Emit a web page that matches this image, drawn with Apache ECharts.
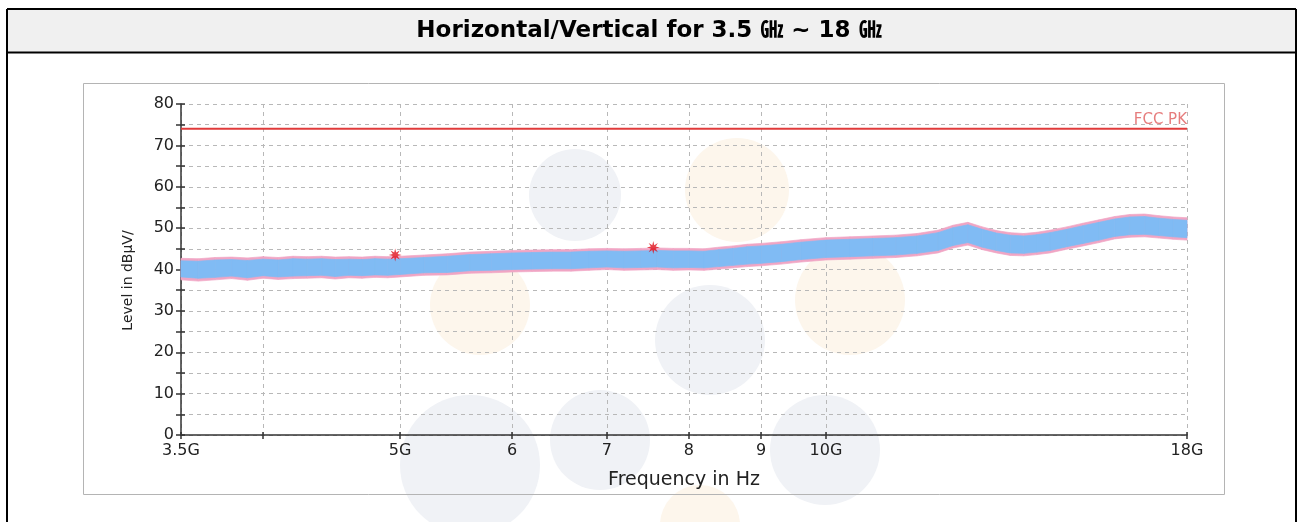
<!DOCTYPE html>
<html>
<head>
<meta charset="utf-8">
<script src="https://cdn.jsdelivr.net/npm/echarts@6/dist/echarts.min.js"></script>
<style>
  html, body { margin: 0; padding: 0; background: #fff; }
  #chart { width: 1300px; height: 522px; }
</style>
</head>
<body>
<div id="chart"></div>
<script>
// frequency sample points in GHz
const freqs = [3.5,3.6,3.7,3.8,3.9,4.0,4.1,4.2,4.3,4.4,4.5,4.6,4.7,4.8,4.9,5.0,5.2,5.4,5.6,5.8,6.0,6.2,6.4,6.6,6.8,7.0,7.2,7.4,7.6,7.8,8.0,8.2,8.4,8.6,8.8,9.0,9.3,9.6,10.0,10.4,10.8,11.2,11.6,12.0,12.3,12.6,12.9,13.2,13.5,13.8,14.1,14.4,14.8,15.2,15.6,16.0,16.4,16.8,17.2,17.6,18.0];

// blue trace envelope (dBuV)
const blueLow  = [38.2,37.9,38.1,38.4,38.0,38.5,38.2,38.4,38.5,38.6,38.3,38.6,38.5,38.7,38.6,38.8,39.2,39.3,39.7,39.8,40.0,40.1,40.2,40.2,40.4,40.6,40.4,40.5,40.6,40.4,40.5,40.4,40.7,41.0,41.3,41.5,41.9,42.4,42.9,43.1,43.3,43.5,43.9,44.6,45.8,46.5,45.4,44.6,44.0,43.9,44.2,44.6,45.5,46.3,47.1,48.0,48.4,48.5,48.2,47.9,47.7];
const blueHigh = [42.1,42.0,42.3,42.4,42.2,42.5,42.3,42.6,42.5,42.6,42.4,42.5,42.4,42.6,42.5,42.6,42.9,43.2,43.6,43.8,44.0,44.1,44.2,44.2,44.4,44.5,44.4,44.5,44.6,44.5,44.5,44.4,44.8,45.1,45.5,45.7,46.1,46.6,47.1,47.3,47.5,47.7,48.1,48.9,50.1,50.8,49.7,48.8,48.3,48.1,48.4,48.9,49.7,50.6,51.4,52.2,52.7,52.8,52.4,52.1,51.9];

// pink trace envelope (dBuV)
const pinkLow  = [37.5,37.2,37.5,37.8,37.4,37.9,37.6,37.8,37.9,38.0,37.7,38.0,37.9,38.1,38.0,38.2,38.6,38.7,39.1,39.2,39.4,39.5,39.6,39.6,39.8,40.0,39.8,39.9,40.0,39.8,39.9,39.8,40.1,40.4,40.7,40.9,41.3,41.8,42.3,42.5,42.7,42.9,43.3,44.0,45.2,45.9,44.8,44.0,43.4,43.3,43.6,44.0,44.9,45.7,46.5,47.4,47.8,47.9,47.6,47.3,47.1];
const pinkHigh = [42.7,42.6,42.9,43.0,42.8,43.1,42.9,43.2,43.1,43.2,43.0,43.1,43.0,43.2,43.1,43.2,43.5,43.8,44.2,44.4,44.6,44.7,44.8,44.8,45.0,45.1,45.0,45.1,45.2,45.1,45.1,45.0,45.4,45.7,46.1,46.3,46.7,47.2,47.7,47.9,48.1,48.3,48.7,49.5,50.7,51.4,50.3,49.4,48.9,48.7,49.0,49.5,50.3,51.2,52.0,52.8,53.3,53.4,53.0,52.7,52.5];

// peak markers [GHz, dBuV]
const markerFreqs = [4.96, 7.55];
const markerLevels = [43.5, 45.3];

// limit line
const limitName = 'FCC PK';
const limitLevel = 74;

// axis ticks
const xTickValues = [3.5,4,5,6,7,8,9,10,18];
const xLabelValues = [3.5,5,6,7,8,9,10,18];
const xLabelText = ['3.5G','5G','6','7','8','9','10G','18G'];

const chart = echarts.init(document.getElementById('chart'));

const fontFam = '"DejaVu Sans", Verdana, sans-serif';
const axisColor = '#333';
const gridColor = '#b8b8b8';

function xLabel(v) {
  const r = Math.round(v * 10) / 10;
  const k = xLabelValues.indexOf(r);
  return k >= 0 ? xLabelText[k] : '';
}

// band between two envelopes, one quad per segment
function bandSeries(name, lo, hi, fill, z) {
  const segs = [];
  for (let i = 0; i < freqs.length - 1; i++) {
    segs.push([freqs[i], lo[i], hi[i], freqs[i + 1], lo[i + 1], hi[i + 1]]);
  }
  return {
    name: name, type: 'custom', z: z, silent: true,
    data: segs,
    encode: { x: [0, 3], y: [1, 2, 4, 5] },
    renderItem: function (params, api) {
      const a1 = api.coord([api.value(0), api.value(2)]);
      const b1 = api.coord([api.value(3), api.value(5)]);
      const b0 = api.coord([api.value(3), api.value(4)]);
      const a0 = api.coord([api.value(0), api.value(1)]);
      return {
        type: 'polygon',
        shape: { points: [a1, b1, b0, a0] },
        style: { fill: fill, stroke: fill, lineWidth: 0.7 }
      };
    }
  };
}

const wmBlue = '#f0f2f6';
const wmOrange = '#fdf6ec';

const option = {
  animation: false,
  backgroundColor: '#fff',
  graphic: [
    // title band + frame
    { type: 'rect', shape: { x: 8, y: 10, width: 1287, height: 42 }, style: { fill: '#f0f0f0' }, z: 0 },
    { type: 'line', shape: { x1: 7, y1: 9, x2: 1296, y2: 9 }, style: { stroke: '#000', lineWidth: 2 } },
    { type: 'line', shape: { x1: 7, y1: 9, x2: 7, y2: 522 }, style: { stroke: '#000', lineWidth: 2 } },
    { type: 'line', shape: { x1: 1296, y1: 9, x2: 1296, y2: 522 }, style: { stroke: '#000', lineWidth: 2 } },
    { type: 'line', shape: { x1: 7, y1: 52.5, x2: 1296, y2: 52.5 }, style: { stroke: '#000', lineWidth: 2 } },
    { type: 'text', x: 649, y: 31, style: { text: 'Horizontal/Vertical for 3.5 ㎓ ~ 18 ㎓', fill: '#000', font: 'bold 23px "DejaVu Sans", "Noto Sans CJK KR", sans-serif', textAlign: 'center', textVerticalAlign: 'middle' } },
    // watermark
    { type: 'circle', shape: { cx: 575, cy: 195, r: 46 }, style: { fill: wmBlue }, z: -10 },
    { type: 'circle', shape: { cx: 737, cy: 190, r: 52 }, style: { fill: wmOrange }, z: -10 },
    { type: 'circle', shape: { cx: 480, cy: 305, r: 50 }, style: { fill: wmOrange }, z: -10 },
    { type: 'circle', shape: { cx: 710, cy: 340, r: 55 }, style: { fill: wmBlue }, z: -10 },
    { type: 'circle', shape: { cx: 850, cy: 300, r: 55 }, style: { fill: wmOrange }, z: -10 },
    { type: 'circle', shape: { cx: 470, cy: 465, r: 70 }, style: { fill: wmBlue }, z: -10 },
    { type: 'circle', shape: { cx: 600, cy: 440, r: 50 }, style: { fill: wmBlue }, z: -10 },
    { type: 'circle', shape: { cx: 825, cy: 450, r: 55 }, style: { fill: wmBlue }, z: -10 },
    { type: 'circle', shape: { cx: 700, cy: 525, r: 40 }, style: { fill: wmOrange }, z: -10 },
    // chart box
    { type: 'rect', shape: { x: 83.5, y: 83.5, width: 1141, height: 411 }, style: { fill: 'none', stroke: '#b4b4b4', lineWidth: 1 }, z: 1 }
  ],
  grid: { left: 181, right: 113, top: 104, bottom: 87, containLabel: false },
  xAxis: [
    {
      type: 'log', logBase: 10, min: 3.5, max: 18,
      name: 'Frequency in Hz', nameLocation: 'middle', nameGap: 36,
      nameTextStyle: { fontFamily: fontFam, fontSize: 19, color: '#222' },
      axisLine: { show: true, onZero: false, lineStyle: { color: axisColor, width: 1.5 } },
      axisTick: { show: true, inside: false, length: 4, customValues: xTickValues, lineStyle: { color: axisColor, width: 1.5 } },
      axisLabel: { show: true, customValues: xLabelValues, formatter: xLabel, margin: 8, fontFamily: fontFam, fontSize: 16, color: '#222' },
      splitLine: { show: true, lineStyle: { color: gridColor, type: [4, 4], width: 1 } },
      minorTick: { show: false }, minorSplitLine: { show: false }
    },
    {
      type: 'log', logBase: 10, min: 3.5, max: 18, position: 'bottom',
      axisLine: { show: false },
      axisTick: { show: true, inside: true, length: 3, customValues: xTickValues, lineStyle: { color: axisColor, width: 1.5 } },
      axisLabel: { show: false },
      splitLine: { show: false }
    }
  ],
  yAxis: [
    {
      type: 'value', min: 0, max: 80, interval: 10,
      name: 'Level in dBµV/', nameLocation: 'middle', nameGap: 46, nameRotate: 90,
      nameTextStyle: { fontFamily: fontFam, fontSize: 14, color: '#222', padding: [0, 22, 0, 0] },
      axisLine: { show: true, lineStyle: { color: axisColor, width: 1.5 } },
      axisTick: { show: true, length: 5, lineStyle: { color: axisColor, width: 1.5 } },
      minorTick: { show: true, splitNumber: 2, length: 5, lineStyle: { color: axisColor, width: 1.5 } },
      axisLabel: { margin: 7, fontFamily: fontFam, fontSize: 16, color: '#222' },
      splitLine: { show: true, lineStyle: { color: gridColor, type: [4, 4], width: 1 } },
      minorSplitLine: { show: true, lineStyle: { color: gridColor, type: [4, 4], width: 1 } }
    },
    {
      type: 'value', min: 0, max: 80, interval: 10, position: 'left',
      axisLine: { show: false },
      axisTick: { show: true, inside: true, length: 4, lineStyle: { color: axisColor, width: 1.5 } },
      minorTick: { show: true, splitNumber: 2, length: 4, lineStyle: { color: axisColor, width: 1.5 } },
      axisLabel: { show: false },
      splitLine: { show: false }, minorSplitLine: { show: false }
    }
  ],
  series: [
    bandSeries('pink', pinkLow, pinkHigh, '#f0a5c4', 3),
    bandSeries('blue', blueLow, blueHigh, '#80bbf4', 4),
    { name: limitName, type: 'line', data: [[3.5, limitLevel], [18, limitLevel]], symbol: 'none',
      lineStyle: { color: '#e03a3a', width: 2 }, z: 5, silent: true },
    { name: 'limitLabel', type: 'scatter', data: [[18, limitLevel]], symbolSize: 0, z: 6, silent: true,
      label: { show: true, position: 'top', align: 'right', distance: 1, formatter: limitName, color: '#e05c5c', fontFamily: fontFam, fontSize: 15 } },
    { name: 'markers', type: 'scatter', data: markerFreqs.map((f, i) => [f, markerLevels[i]]),
      symbol: 'path://M5,0 L5.77,3.15 L8.54,1.46 L6.85,4.23 L10,5 L6.85,5.77 L8.54,8.54 L5.77,6.85 L5,10 L4.23,6.85 L1.46,8.54 L3.15,5.77 L0,5 L3.15,4.23 L1.46,1.46 L4.23,3.15 Z',
      symbolSize: 13, itemStyle: { color: '#e0101c' }, z: 7 }
  ]
};

chart.setOption(option);
</script>
</body>
</html>
